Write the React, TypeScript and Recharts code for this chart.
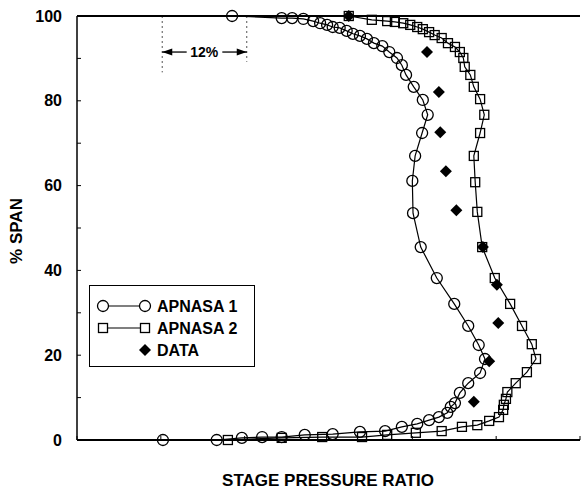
import React from 'react';
import { ScatterChart, Scatter, XAxis, YAxis, ReferenceLine, ReferenceDot } from 'recharts';

// x is stage pressure ratio in % of a reference span (no labels on the original), y is % span
const apnasa1X = [22.2, 29.3, 30.8, 32.4, 33.8, 34.8, 35.8, 36.6, 37.6, 38.6, 39.5, 40.5, 41.5, 42.5, 43.7, 44.7, 45.8, 46.5, 47.1, 48.2, 49.5, 50.2, 49.4, 48.4, 48.0, 48.1, 49.2, 51.5, 54.0, 56.0, 57.5, 58.4, 57.7, 56.0, 54.8, 54.1, 53.5, 53.0, 51.8, 50.4, 48.7, 46.5, 44.1, 40.5, 36.6, 32.6, 29.3, 26.5, 23.6, 20.0, 12.3];
const apnasa1Y = [100, 99.5, 99.5, 99.3, 98.8, 98.3, 97.9, 97.4, 97.2, 96.5, 95.8, 95.3, 94.6, 93.6, 92.9, 91.5, 90.1, 88.4, 86.1, 83.3, 80.2, 76.7, 72.4, 67.0, 61.1, 53.5, 45.5, 38.2, 32.1, 26.9, 22.4, 19.1, 15.8, 13.4, 11.1, 8.7, 7.8, 6.4, 5.4, 4.7, 3.8, 3.1, 2.1, 1.9, 1.4, 1.2, 0.7, 0.7, 0.5, 0, 0];

const apnasa2X = [38.9, 42.2, 44.4, 45.5, 46.7, 47.7, 48.7, 49.5, 50.4, 51.2, 52.2, 53.1, 54.1, 54.8, 55.3, 55.5, 56.3, 56.8, 57.7, 58.3, 57.7, 56.8, 57.0, 57.3, 58.0, 59.8, 62.0, 63.7, 65.1, 65.7, 64.4, 62.8, 61.6, 61.4, 61.1, 61.0, 60.4, 59.0, 57.3, 55.1, 52.2, 48.5, 44.4, 40.8, 35.1, 29.3, 21.6];
const apnasa2Y = [100, 99.1, 98.8, 98.6, 98.3, 97.9, 97.4, 96.9, 96.2, 95.5, 94.8, 93.6, 92.7, 91.5, 90.1, 88.0, 86.1, 83.3, 80.4, 76.7, 72.4, 67.0, 60.8, 53.8, 45.5, 38.2, 32.1, 26.9, 22.6, 19.1, 16.0, 13.4, 11.3, 9.7, 8.3, 7.1, 5.4, 4.5, 3.5, 3.1, 2.1, 1.7, 1.2, 0.7, 0.7, 0.5, 0];

const dataX = [38.9, 50.1, 51.8, 52.0, 52.8, 54.3, 58.1, 60.1, 60.3, 59.0, 56.8];
const dataY = [100, 91.5, 82.1, 72.6, 63.4, 54.2, 45.5, 36.6, 27.6, 18.6, 9.0];

const spanTicks = [0, 10, 20, 30, 40, 50, 60, 70, 80, 90, 100];
const ratioTicks = [0, 12, 24, 36, 48, 60, 72];

const toPoints = (xs: number[], ys: number[]) => xs.map((x, i) => ({ x, y: ys[i] }));
const apnasa1 = toPoints(apnasa1X, apnasa1Y);
const apnasa2 = toPoints(apnasa2X, apnasa2Y);
const measured = toPoints(dataX, dataY);

const FONT = '"Liberation Sans", Arial, Helvetica, sans-serif';

const OpenCircle = (p: any) => <circle cx={p.cx} cy={p.cy} r={5.5} fill="none" stroke="#000" strokeWidth={1.3} />;
const OpenSquare = (p: any) => <rect x={p.cx - 4.5} y={p.cy - 4.5} width={9} height={9} fill="none" stroke="#000" strokeWidth={1.3} />;
const Diamond = (p: any) => (
  <polygon points={`${p.cx},${p.cy - 6} ${p.cx + 6},${p.cy} ${p.cx},${p.cy + 6} ${p.cx - 6},${p.cy}`} fill="#000" />
);

const Arrow = (p: any) => {
  const { x1, y1, x2, y2 } = p;
  const dir = x2 > x1 ? 1 : -1;
  return (
    <g>
      <line x1={x1} y1={y1} x2={x2} y2={y2} stroke="#000" strokeWidth={1.3} />
      <polygon points={`${x2},${y2} ${x2 - dir * 10},${y2 - 3.5} ${x2 - dir * 10},${y2 + 3.5}`} fill="#000" />
    </g>
  );
};

const tickStyle = { fontSize: 16, fontWeight: 'bold' as const, fill: '#000', fontFamily: FONT };

export default function App() {
  return (
    <div style={{ position: 'absolute', left: 0, top: 0, width: 582, height: 491, background: '#fff', fontFamily: FONT }}>
      <ScatterChart width={582} height={491} margin={{ top: 6, right: 0, bottom: 21, left: 17 }}>
        <XAxis xAxisId="b" type="number" dataKey="x" domain={[0, 72]} ticks={ratioTicks} height={30}
          tickSize={-4} tickFormatter={() => ''} stroke="#000" axisLine={{ stroke: '#000', strokeWidth: 2 }} />
        <XAxis xAxisId="t" orientation="top" type="number" dataKey="x" domain={[0, 72]} ticks={ratioTicks} height={10}
          tickSize={-4} tickFormatter={() => ''} stroke="#000" axisLine={{ stroke: '#000', strokeWidth: 2 }} />
        <YAxis yAxisId="l" type="number" dataKey="y" domain={[0, 100]} ticks={spanTicks} width={60}
          tickSize={-4} tickMargin={19} tickFormatter={(v: number) => (v % 20 === 0 ? String(v) : '')}
          tick={tickStyle} stroke="#000" axisLine={{ stroke: '#000', strokeWidth: 1.5 }} />
        <YAxis yAxisId="r" orientation="right" type="number" dataKey="y" domain={[0, 100]} ticks={spanTicks} width={2}
          tickSize={-4} tickFormatter={() => ''} stroke="#000" axisLine={false} />

        <ReferenceLine xAxisId="b" yAxisId="l" segment={[{ x: 12.2, y: 100 }, { x: 12.2, y: 86.7 }]}
          stroke="#555" strokeWidth={1} strokeDasharray="2 3" />
        <ReferenceLine xAxisId="b" yAxisId="l" segment={[{ x: 24.3, y: 100 }, { x: 24.3, y: 89.2 }]}
          stroke="#555" strokeWidth={1} strokeDasharray="2 3" />
        <ReferenceLine xAxisId="b" yAxisId="l" segment={[{ x: 15.7, y: 91.5 }, { x: 12.2, y: 91.5 }]} shape={Arrow} />
        <ReferenceLine xAxisId="b" yAxisId="l" segment={[{ x: 20.8, y: 91.5 }, { x: 24.3, y: 91.5 }]} shape={Arrow} />
        <ReferenceDot xAxisId="b" yAxisId="l" x={18.2} y={91.5} r={0}
          shape={(p: any) => (
            <text x={p.cx} y={p.cy} textAnchor="middle" dominantBaseline="central" fontSize={14} fontWeight="bold" fontFamily={FONT}>12%</text>
          )} />

        <Scatter name="APNASA 1" xAxisId="b" yAxisId="l" data={apnasa1} shape={OpenCircle}
          line={{ stroke: '#000', strokeWidth: 1.2 }} isAnimationActive={false} />
        <Scatter name="APNASA 2" xAxisId="b" yAxisId="l" data={apnasa2} shape={OpenSquare}
          line={{ stroke: '#000', strokeWidth: 1.2 }} isAnimationActive={false} />
        <Scatter name="DATA" xAxisId="b" yAxisId="l" data={measured} shape={Diamond} isAnimationActive={false} />
      </ScatterChart>

      <svg style={{ position: 'absolute', left: 89, top: 285 }} width={166} height={82}>
        <rect x={0.5} y={0.5} width={165} height={81} fill="#fff" stroke="#000" strokeWidth={1} />
        <line x1={14} y1={21} x2={56} y2={21} stroke="#000" strokeWidth={1.2} />
        <circle cx={14} cy={21} r={5.5} fill="#fff" stroke="#000" strokeWidth={1.3} />
        <circle cx={56} cy={21} r={5.5} fill="#fff" stroke="#000" strokeWidth={1.3} />
        <text x={68} y={21} dominantBaseline="central" fontSize={16} fontWeight="bold" fontFamily={FONT}>APNASA 1</text>
        <line x1={14} y1={43} x2={56} y2={43} stroke="#000" strokeWidth={1.2} />
        <rect x={9.5} y={38.5} width={9} height={9} fill="#fff" stroke="#000" strokeWidth={1.3} />
        <rect x={51.5} y={38.5} width={9} height={9} fill="#fff" stroke="#000" strokeWidth={1.3} />
        <text x={68} y={43} dominantBaseline="central" fontSize={16} fontWeight="bold" fontFamily={FONT}>APNASA 2</text>
        <polygon points="56,59 62,65 56,71 50,65" fill="#000" />
        <text x={68} y={65} dominantBaseline="central" fontSize={16} fontWeight="bold" fontFamily={FONT}>DATA</text>
      </svg>

      <div style={{ position: 'absolute', left: 0, width: 656, top: 471, textAlign: 'center', fontSize: 17, fontWeight: 'bold', lineHeight: '20px' }}>
        STAGE PRESSURE RATIO
      </div>
      <div style={{ position: 'absolute', left: 17, top: 231, width: 0, height: 0 }}>
        <div style={{ position: 'absolute', left: -60, top: -10, width: 120, textAlign: 'center', fontSize: 17, fontWeight: 'bold', lineHeight: '20px', transform: 'rotate(-90deg)' }}>
          % SPAN
        </div>
      </div>
    </div>
  );
}
